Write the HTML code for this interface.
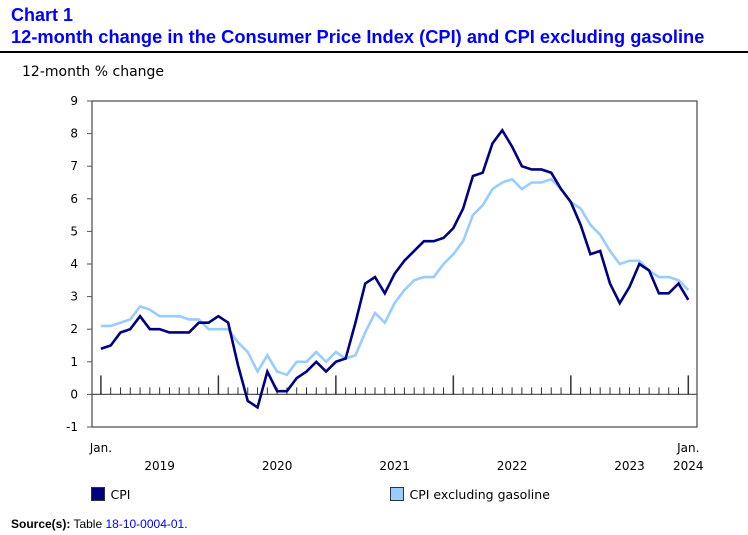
<!DOCTYPE html>
<html><head><meta charset="utf-8"><style>
body{margin:0;width:748px;height:535px;background:#fff;overflow:hidden;font-family:"DejaVu Sans","Liberation Sans",sans-serif;}
.t{position:absolute;left:11px;color:#0000ff;font:bold 18px "Liberation Sans",Arial,sans-serif;white-space:nowrap;}
</style></head><body>
<div class="t" style="top:5px">Chart 1</div>
<div class="t" style="top:27px;transform:scaleX(1.015);transform-origin:left">12-month change in the Consumer Price Index (CPI) and CPI excluding gasoline</div>
<div style="position:absolute;left:0;top:51px;width:748px;height:2px;background:#000"></div>
<svg id="c" width="748" height="535" style="position:absolute;left:0;top:0"></svg>
<div style="position:absolute;left:11px;top:517px;font:12px 'Liberation Sans',Arial,sans-serif;color:#000"><b>Source(s):</b> Table <span style="color:#0000ff">18-10-0004-01</span>.</div>
<script>
const cpi=[1.4,1.5,1.9,2.0,2.4,2.0,2.0,1.9,1.9,1.9,2.2,2.2,
2.4,2.2,0.9,-0.2,-0.4,0.7,0.1,0.1,0.5,0.7,1.0,0.7,
1.0,1.1,2.2,3.4,3.6,3.1,3.7,4.1,4.4,4.7,4.7,4.8,
5.1,5.7,6.7,6.8,7.7,8.1,7.6,7.0,6.9,6.9,6.8,6.3,
5.9,5.2,4.3,4.4,3.4,2.8,3.3,4.0,3.8,3.1,3.1,3.4,2.9];
const exGas=[2.1,2.1,2.2,2.3,2.7,2.6,2.4,2.4,2.4,2.3,2.3,2.0,
2.0,2.0,1.6,1.3,0.7,1.2,0.7,0.6,1.0,1.0,1.3,1.0,
1.3,1.1,1.2,1.9,2.5,2.2,2.8,3.2,3.5,3.6,3.6,4.0,
4.3,4.7,5.5,5.8,6.3,6.5,6.6,6.3,6.5,6.5,6.6,6.3,
5.9,5.7,5.2,4.9,4.4,4.0,4.1,4.1,3.8,3.6,3.6,3.5,3.2];
const yTicks=[-1,0,1,2,3,4,5,6,7,8,9];
const years=["2019","2020","2021","2022","2023"];
const ns="http://www.w3.org/2000/svg",svg=document.getElementById('c');
const L=92,T=101,R=697,B=427;
const x=i=>100.9+i*(587.4/60);
const y=v=>B-(v+1)*(B-T)/10;
function el(tag,a,txt){const e=document.createElementNS(ns,tag);for(const k in a)e.setAttribute(k,a[k]);if(txt!=null)e.textContent=txt;svg.appendChild(e);return e;}
let e=el('rect',{x:L,y:T,width:R-L,height:B-T,fill:'none',stroke:'#555','stroke-width':1.3});

yTicks.forEach(v=>{
 let t=el('line',{x1:L-5,x2:L,y1:y(v),y2:y(v),stroke:'#555'});
 
 let l=el('text',{x:L-14,y:y(v)+4,'text-anchor':'end','font-size':12,fill:'#000'},v);
 
});
e=el('line',{x1:L,x2:R,y1:y(0),y2:y(0),stroke:'#555','stroke-width':1.3});

for(let i=0;i<cpi.length;i++){
 const maj=i%12==0;
 let t=el('line',{x1:x(i),x2:x(i),y1:maj?y(0)-19:y(0)-7,y2:y(0),stroke:'#333','stroke-width':maj?1.5:1});
 
}
years.forEach((yr,k)=>{
 let l=el('text',{x:x(k*12+6),y:470,'text-anchor':'middle','font-size':12},yr);
 
});
e=el('text',{x:x(0),y:452,'text-anchor':'middle','font-size':12},'Jan.');
e=el('text',{x:x(60),y:452,'text-anchor':'middle','font-size':12},'Jan.');
e=el('text',{x:x(60),y:470,'text-anchor':'middle','font-size':12},'2024');
e=el('text',{x:22,y:76,'font-size':14},'12-month % change');
function line(d,col,name){const p=el('polyline',{points:d.map((v,i)=>x(i)+','+y(v)).join(' '),fill:'none',stroke:col,'stroke-width':2.6,'stroke-linejoin':'miter'});
 }
line(exGas,'#99ccff','series-cpi-excl-gasoline');
line(cpi,'#000080','series-cpi');
function leg(xx,col,txt,name){
 let r=el('rect',{x:xx,y:487.5,width:13,height:13,fill:col,stroke:'#333'});
 
 let t=el('text',{x:xx+19,y:499,'font-size':12.5},txt);
 
}
leg(91.5,'#000080','CPI','legend-cpi');
leg(390.5,'#99ccff','CPI excluding gasoline','legend-cpi-excl-gasoline');
</script>
</body></html>
